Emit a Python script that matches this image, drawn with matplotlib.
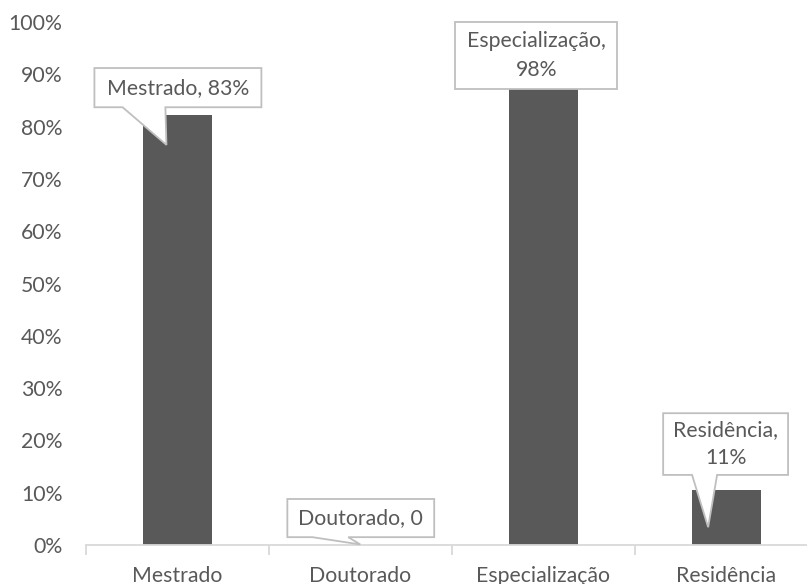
import matplotlib
matplotlib.use("Agg")
import matplotlib.pyplot as plt
from matplotlib.patches import Polygon
from matplotlib.ticker import FixedLocator, PercentFormatter

categories = ["Mestrado", "Doutorado", "Especialização", "Residência"]
values = [0.822, 0.0, 0.98, 0.106]
callout_texts = ["Mestrado, 83%", "Doutorado, 0", "Especialização,\n98%", "Residência,\n11%"]
y_ticks = [0, 0.1, 0.2, 0.3, 0.4, 0.5, 0.6, 0.7, 0.8, 0.9, 1.0]

# callout geometry (relative to bar centre, in data units): box x0,x1,y0,y1 ; tail base xa,xb ; tip dx,y
callout_geom = [
    dict(box=(-0.454, 0.459, 0.837, 0.912), tail=(-0.30, -0.066), tip=(-0.06, 0.765)),
    dict(box=(-0.399, 0.404, 0.015, 0.088), tail=(-0.262, -0.066), tip=(0.0, 0.001)),
    dict(box=(-0.481, 0.404, 0.872, 1.0), tail=None, tip=None),
    dict(box=(-0.344, 0.339, 0.134, 0.252), tail=(-0.186, -0.049), tip=(-0.098, 0.034)),
]

TXT = "#595959"
FONT = "Lato"
FS = 15.3

fig = plt.figure(figsize=(8.07, 5.84), dpi=100)
ax = fig.add_axes([86/807, 39/584, (817.5-86)/807, (545-22)/584])

x = list(range(len(categories)))
ax.bar(x, values, width=0.377, color="#595959", zorder=2)

ax.set_xlim(-0.5, len(categories) - 0.5)
ax.set_ylim(0, 1.0)

for s in ["top", "right", "left"]:
    ax.spines[s].set_visible(False)
ax.spines["bottom"].set_color("#d9d9d9")
ax.spines["bottom"].set_linewidth(1.3)

ax.yaxis.set_major_locator(FixedLocator(y_ticks))
ax.yaxis.set_major_formatter(PercentFormatter(1.0, decimals=0))
ax.tick_params(axis="y", length=0, pad=17, labelsize=FS, labelcolor=TXT)

ax.set_xticks(x)
ax.set_xticklabels(categories)
ax.set_xticks([i - 0.5 for i in range(len(categories) + 1)], minor=True)
ax.tick_params(axis="x", which="major", length=0, pad=15, labelsize=FS, labelcolor=TXT)
ax.tick_params(axis="x", which="minor", length=7, width=1.3, color="#d9d9d9")

for lbl in ax.get_xticklabels() + ax.get_yticklabels():
    lbl.set_fontfamily(FONT)

for i, (txt, g) in enumerate(zip(callout_texts, callout_geom)):
    x0, x1, y0, y1 = g["box"]
    pts = [(i + x0, y0)]
    if g["tail"] is not None:
        xa, xb = g["tail"]
        tx, ty = g["tip"]
        pts += [(i + xa, y0), (i + tx, ty), (i + xb, y0)]
    pts += [(i + x1, y0), (i + x1, y1), (i + x0, y1)]
    poly = Polygon(pts, closed=True, facecolor="white", edgecolor="#bfbfbf",
                   linewidth=1.3, zorder=4, clip_on=False, joinstyle="miter")
    ax.add_patch(poly)
    ax.text(i + (x0 + x1) / 2, (y0 + y1) / 2, txt, ha="center", va="center",
            fontsize=FS, color=TXT, fontfamily=FONT, zorder=5,
            linespacing=1.55)

fig.savefig("out.png", dpi=100)
